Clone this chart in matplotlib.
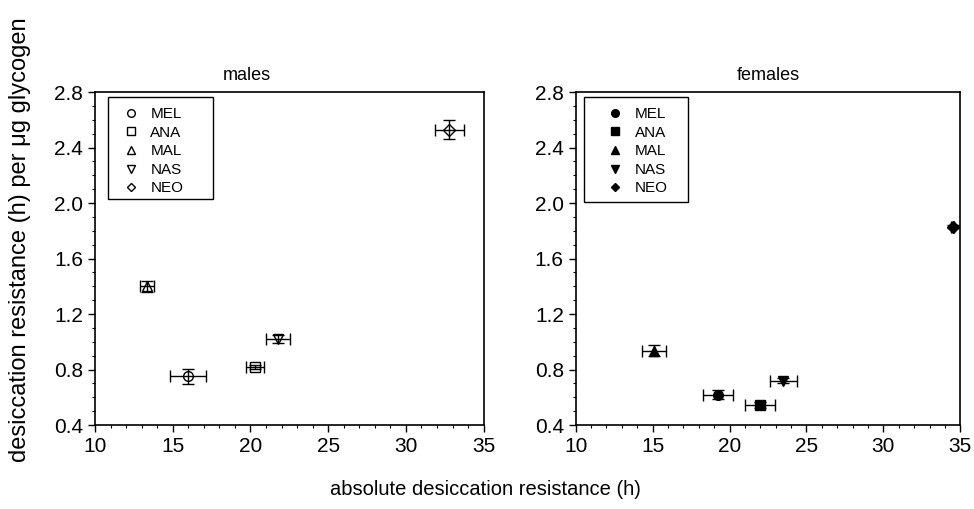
import matplotlib
matplotlib.use("Agg")
import matplotlib.pyplot as plt
from matplotlib.ticker import MultipleLocator, FormatStrFormatter
from matplotlib.lines import Line2D
from matplotlib.patches import Rectangle

plt.rcParams['font.family'] = ['Liberation Sans', 'DejaVu Sans']

species = ["MEL", "ANA", "MAL", "NAS", "NEO"]
markers = ["o", "s", "^", "v", "D"]

# males
m_x = [16.0, 20.3, 13.35, 21.75, 32.8]
m_xerr = [1.15, 0.6, 0.45, 0.77, 0.94]
m_y = [0.75, 0.82, 1.40, 1.02, 2.53]
m_yerr = [0.055, 0.015, 0.04, 0.03, 0.07]

# females
f_x = [19.25, 22.0, 15.1, 23.5, 34.5]
f_xerr = [0.95, 0.98, 0.78, 0.87, 0.1]
f_y = [0.62, 0.545, 0.935, 0.72, 1.83]
f_yerr = [0.03, 0.02, 0.04, 0.02, 0.01]

fig = plt.figure(figsize=(9.74, 5.09), dpi=100)
ax1 = fig.add_axes([0.0975, 0.165, 0.399, 0.654])
ax2 = fig.add_axes([0.591, 0.165, 0.395, 0.654])

def draw(ax, xs, xe, ys, ye, filled, title, title_x, box, leg_anchor):
    handles = []
    for sp, mk, x, dx, y, dy in zip(species, markers, xs, xe, ys, ye):
        ms = 7 if mk != "D" else 6
        ax.errorbar(x, y, xerr=dx, yerr=dy, fmt='none', ecolor='black',
                    elinewidth=1.0, capsize=4, capthick=1.0, zorder=3)
        ax.plot(x, y, marker=mk, ms=ms, mec='black', mew=1.0,
                mfc='black' if filled else 'none', ls='none', zorder=4)
        handles.append(Line2D([], [], marker=mk, ms=ms - 1.5, mec='black', mew=1.0,
                              mfc='black' if filled else 'none', ls='none', label=sp))
    ax.set_xlim(10, 35)
    ax.set_ylim(0.4, 2.8)
    ax.xaxis.set_major_locator(MultipleLocator(5))
    ax.xaxis.set_minor_locator(MultipleLocator(1))
    ax.yaxis.set_major_locator(MultipleLocator(0.4))
    ax.yaxis.set_minor_locator(MultipleLocator(0.1))
    ax.yaxis.set_major_formatter(FormatStrFormatter('%.1f'))
    ax.tick_params(which='major', direction='out', length=5, width=1, labelsize=15)
    ax.tick_params(which='minor', direction='out', length=2.5, width=0.8)
    for s in ax.spines.values():
        s.set_linewidth(1.2)
    ax.set_title(title, fontsize=13, x=title_x, pad=9)
    ax.add_patch(Rectangle((box[0], box[1]), box[2], box[3], transform=ax.transAxes,
                           fill=False, edgecolor='black', linewidth=1.0, zorder=5))
    ax.legend(handles=handles, loc='upper left', bbox_to_anchor=leg_anchor,
              fontsize=11, frameon=False, handlelength=1.2, handletextpad=0.7,
              labelspacing=0.3, borderpad=0, borderaxespad=0)

draw(ax1, m_x, m_xerr, m_y, m_yerr, False, "males", 0.39,
     (0.0335, 0.68, 0.27, 0.305), (0.068, 0.955))
draw(ax2, f_x, f_xerr, f_y, f_yerr, True, "females", 0.5,
     (0.021, 0.67, 0.27, 0.315), (0.078, 0.955))

fig.text(0.021, 0.53, "desiccation resistance (h) per μg glycogen", rotation=90,
         ha='center', va='center', fontsize=17)
fig.text(0.498, 0.039, "absolute desiccation resistance (h)", ha='center',
         va='center', fontsize=14.5)

fig.savefig("out.png", dpi=100)
